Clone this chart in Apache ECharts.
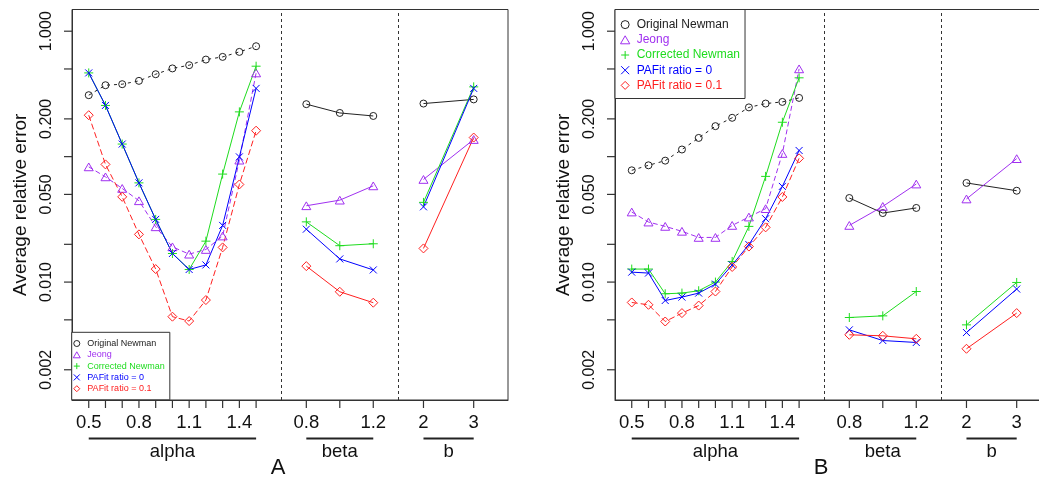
<!DOCTYPE html>
<html>
<head>
<meta charset="utf-8">
<script src="https://cdn.jsdelivr.net/npm/echarts@6/dist/echarts.min.js"></script>
<style>
html,body{margin:0;padding:0;background:#fff;}
#chart{width:1039px;height:484px;}
</style>
</head>
<body>
<div id="chart"></div>
<script>
// ---------------- DATA ----------------
const alphaValues = [0.5, 0.6, 0.7, 0.8, 0.9, 1.0, 1.1, 1.2, 1.3, 1.4, 1.5];
const betaValues = [0.8, 1.0, 1.2];
const bValues = [2, 3];
const alphaTickLabels = [0.5, 0.8, 1.1, 1.4];
const betaTickLabels = [0.8, 1.2];
const bTickLabels = [2, 3];
const groupNames = ['alpha', 'beta', 'b'];
const panelLetters = ['A', 'B'];
const methodNames = ['Original Newman', 'Jeong', 'Corrected Newman', 'PAFit ratio = 0', 'PAFit ratio = 0.1'];
const yTickValues = [1, 0.5, 0.2, 0.1, 0.05, 0.02, 0.01, 0.005, 0.002];
const yLabelValues = [1, 0.2, 0.05, 0.01, 0.002];
const yAxisTitle = 'Average relative error';

// Panel A
const origNewmanA_alpha = [0.309, 0.371, 0.378, 0.402, 0.454, 0.505, 0.536, 0.594, 0.624, 0.684, 0.759];
const origNewmanA_beta = [0.262, 0.223, 0.211];
const origNewmanA_b = [0.265, 0.286];
const jeongA_alpha = [0.0829, 0.0690, 0.0558, 0.0445, 0.0276, 0.0191, 0.0167, 0.0182, 0.0233, 0.0938, 0.465];
const jeongA_beta = [0.0406, 0.0450, 0.0585];
const jeongA_b = [0.0658, 0.137];
const correctedA_alpha = [0.465, 0.256, 0.126, 0.0618, 0.0316, 0.0169, 0.0126, 0.0212, 0.0726, 0.2275, 0.526];
const correctedA_beta = [0.0302, 0.0195, 0.0202];
const correctedA_b = [0.0432, 0.360];
const pafit0A_alpha = [0.465, 0.256, 0.126, 0.0618, 0.0316, 0.0169, 0.0126, 0.0137, 0.0283, 0.0996, 0.350];
const pafit0A_beta = [0.0264, 0.0153, 0.0125];
const pafit0A_b = [0.0398, 0.350];
const pafit01A_alpha = [0.214, 0.0867, 0.0478, 0.0240, 0.0127, 0.0053, 0.00489, 0.00719, 0.0189, 0.0600, 0.161];
const pafit01A_beta = [0.0134, 0.00837, 0.00685];
const pafit01A_b = [0.01855, 0.142];

// Panel B
const origNewmanB_alpha = [0.0778, 0.0853, 0.0929, 0.114, 0.141, 0.175, 0.204, 0.247, 0.265, 0.273, 0.294];
const origNewmanB_beta = [0.0468, 0.0355, 0.039];
const origNewmanB_b = [0.0617, 0.0535];
const jeongB_alpha = [0.0362, 0.0301, 0.0278, 0.0254, 0.0227, 0.0227, 0.0283, 0.033, 0.0385, 0.106, 0.501];
const jeongB_beta = [0.0283, 0.0401, 0.0605];
const jeongB_b = [0.046, 0.0964];
const correctedB_alpha = [0.0127, 0.0127, 0.00807, 0.00817, 0.00853, 0.0100, 0.0146, 0.0278, 0.0696, 0.188, 0.425];
const correctedB_beta = [0.00522, 0.00538, 0.00841];
const correctedB_b = [0.00456, 0.00993];
const pafit0B_alpha = [0.0120, 0.0118, 0.00713, 0.00759, 0.00817, 0.00964, 0.0137, 0.0199, 0.032, 0.0579, 0.112];
const pafit0B_beta = [0.00416, 0.00342, 0.0033];
const pafit0B_b = [0.00396, 0.0088];
const pafit01B_alpha = [0.00688, 0.00659, 0.00485, 0.00566, 0.0065, 0.00841, 0.0132, 0.0192, 0.0273, 0.0477, 0.0969];
const pafit01B_beta = [0.0038, 0.00373, 0.00353];
const pafit01B_b = [0.00294, 0.00566];

const panelData = [
  [
    [origNewmanA_alpha, origNewmanA_beta, origNewmanA_b],
    [jeongA_alpha, jeongA_beta, jeongA_b],
    [correctedA_alpha, correctedA_beta, correctedA_b],
    [pafit0A_alpha, pafit0A_beta, pafit0A_b],
    [pafit01A_alpha, pafit01A_beta, pafit01A_b]
  ],
  [
    [origNewmanB_alpha, origNewmanB_beta, origNewmanB_b],
    [jeongB_alpha, jeongB_beta, jeongB_b],
    [correctedB_alpha, correctedB_beta, correctedB_b],
    [pafit0B_alpha, pafit0B_beta, pafit0B_b],
    [pafit01B_alpha, pafit01B_beta, pafit01B_b]
  ]
];

// ---------------- LAYOUT / STYLE ----------------
const FONT = '"Liberation Sans", Arial, Helvetica, sans-serif';
const rnd = v => Math.round(v * 1e6) / 1e6;
const groupLayout = [
  {values: alphaValues, labels: alphaTickLabels, pos: v => rnd(1 + (v - 0.5) * 10)},
  {values: betaValues, labels: betaTickLabels, pos: v => rnd(14 + (v - 0.8) * 10)},
  {values: bValues, labels: bTickLabels, pos: v => rnd(21 + (v - 2) * 3)}
];
const X_MIN = 0, X_MAX = 26.05;
const Y_MIN = -2.94, Y_MAX = 0.173;
const TICK_LEN = 8;
const circlePath = 'path://M10,5A5,5 0 1 1 0,5A5,5 0 1 1 10,5Z';
const trianglePath = 'path://M5,0.7L10,9.3L0,9.3Z';
const diamondPath = 'path://M5,0L10,5L5,10L0,5Z';
const plusPath = 'path://M5,0L5,10M0,5L10,5';
const crossPath = 'path://M0,0L10,10M10,0L0,10';
const methodStyles = [
  {color: '#222222', symbol: circlePath, size: 7, dash: [3, 4]},
  {color: '#A030F0', symbol: trianglePath, size: 9, dash: [5, 3]},
  {color: '#1EDC1E', symbol: plusPath, size: 9, dash: 'solid'},
  {color: '#0000FF', symbol: crossPath, size: 7, dash: 'solid'},
  {color: '#FF2020', symbol: diamondPath, size: 9, dash: [6, 3]}
];
const grids = [
  {left: 72, top: 9.5, width: 436, height: 390.5},
  {left: 615, top: 9.5, width: 436, height: 390.5}
];

const tickPositions = [];
const labelMap = {};
groupLayout.forEach(g => {
  g.values.forEach(v => tickPositions.push(g.pos(v)));
  g.labels.forEach(v => { labelMap[g.pos(v)] = String(v); });
});
const separators = [];
for (let i = 0; i < groupLayout.length - 1; i++) {
  const a = groupLayout[i], b = groupLayout[i + 1];
  separators.push(rnd((a.pos(a.values[a.values.length - 1]) + b.pos(b.values[0])) / 2));
}
const log10 = v => Math.log10(v);
const yLabelKeys = {};
yLabelValues.forEach(v => { yLabelKeys[rnd(log10(v))] = v.toFixed(3); });

// tick marks are drawn as part of each axis label (rich text), so they sit exactly at the axis values
const xRich = {
  tk: {width: 1.2, height: TICK_LEN, lineHeight: TICK_LEN, backgroundColor: '#333', fontSize: 1},
  gap: {height: 5, lineHeight: 5, fontSize: 1},
  num: {fontSize: 18.5, lineHeight: 19, color: '#111', fontFamily: FONT}
};
const yRich = {
  tk: {width: TICK_LEN * 0 + 1.2, height: TICK_LEN, lineHeight: TICK_LEN, backgroundColor: '#333', fontSize: 1},
  gap: {height: 9, lineHeight: 9, fontSize: 1},
  num: {fontSize: 16, lineHeight: 16, color: '#111', fontFamily: FONT}
};

const option = {
  animation: false,
  backgroundColor: '#fff',
  grid: grids.map(g => Object.assign({show: true, borderColor: '#333', borderWidth: 1, backgroundColor: 'transparent', outerBoundsMode: 'none', containLabel: false}, g)),
  xAxis: grids.map((g, gi) => ({
    type: 'value', gridIndex: gi, min: X_MIN, max: X_MAX, position: 'bottom',
    axisLine: {show: true, onZero: false, lineStyle: {color: '#333', width: 1}},
    splitLine: {show: false},
    axisTick: {show: false},
    axisLabel: {show: true, customValues: tickPositions, margin: 0, hideOverlap: false,
      formatter: v => {
        const t = labelMap[rnd(v)];
        return t ? '{tk| }\n{gap| }\n{num|' + t + '}' : '{tk| }';
      },
      rich: xRich, fontSize: 18.5, color: '#111', fontFamily: FONT}
  })),
  yAxis: grids.map((g, gi) => ({
    type: 'value', gridIndex: gi, min: Y_MIN, max: Y_MAX, position: 'left',
    axisLine: {show: true, onZero: false, lineStyle: {color: '#333', width: 1}},
    splitLine: {show: false},
    axisTick: {show: false},
    axisLabel: {show: true, customValues: yTickValues.map(log10), rotate: 90, margin: 0, hideOverlap: false,
      formatter: v => {
        const t = yLabelKeys[rnd(v)];
        return t ? '{num|' + t + '}\n{gap| }\n{tk| }' : '{tk| }';
      },
      rich: yRich, fontSize: 16, color: '#111', fontFamily: FONT},
    name: yAxisTitle, nameLocation: 'middle', nameGap: 42, nameRotate: 90, nameMoveOverlap: false,
    nameTextStyle: {fontSize: 19, color: '#111', fontFamily: FONT}
  })),
  legend: [
    {
      orient: 'vertical', left: 71.7, top: 332.3, padding: [5.7, 5, 5.6, 1.1],
      itemWidth: 11, itemHeight: 6, itemGap: 0.3, borderColor: '#333', borderWidth: 1, backgroundColor: '#fff',
      symbolKeepAspect: true,
      textStyle: {fontSize: 9, lineHeight: 11, fontFamily: FONT},
      selectedMode: false,
      data: methodNames.map((n, i) => ({name: n, icon: methodStyles[i].symbol,
        itemStyle: {color: 'rgba(0,0,0,0)', borderColor: methodStyles[i].color, borderWidth: 1},
        textStyle: {color: methodStyles[i].color}}))
    },
    {
      orient: 'vertical', left: 615, top: 9.5, padding: [7.5, 5, 5.5, 5],
      itemWidth: 13, itemHeight: 8, itemGap: 0, borderColor: '#333', borderWidth: 1, backgroundColor: '#fff',
      symbolKeepAspect: true,
      textStyle: {fontSize: 12, lineHeight: 15.2, fontFamily: FONT},
      selectedMode: false,
      data: methodNames.map((n, i) => ({name: n, icon: methodStyles[i].symbol,
        itemStyle: {color: 'rgba(0,0,0,0)', borderColor: methodStyles[i].color, borderWidth: 1},
        textStyle: {color: methodStyles[i].color}}))
    }
  ],
  series: []
};

panelData.forEach((methods, gi) => {
  methods.forEach((groupsVals, mi) => {
    const st = methodStyles[mi];
    groupsVals.forEach((vals, gIdx) => {
      const g = groupLayout[gIdx];
      const s = {
        type: 'line', name: methodNames[mi], xAxisIndex: gi, yAxisIndex: gi,
        data: vals.map((v, k) => [g.pos(g.values[k]), log10(v)]),
        symbol: st.symbol, symbolSize: st.size, showSymbol: true, symbolKeepAspect: true,
        itemStyle: {color: 'rgba(0,0,0,0)', borderColor: st.color, borderWidth: 1},
        lineStyle: {color: st.color, width: 1, type: gIdx === 0 ? st.dash : 'solid'},
        emphasis: {disabled: true}, z: 3
      };
      if (mi === 0 && gIdx === 0) {
        s.markLine = {silent: true, symbol: 'none', label: {show: false},
          lineStyle: {type: [3, 3], color: '#333', width: 1},
          data: separators.map(x => ({xAxis: x}))};
      }
      option.series.push(s);
    });
  });
});

const chart = echarts.init(document.getElementById('chart'), null, {renderer: 'canvas'});
chart.setOption(option);

// group underlines, group names and panel letters, placed with the axes' own scales
const graphics = [];
grids.forEach((g, gi) => {
  const yBottom = chart.convertToPixel({yAxisIndex: gi}, Y_MIN);
  const xLeft = chart.convertToPixel({xAxisIndex: gi}, X_MIN);
  groupLayout.forEach((grp, k) => {
    const x0 = chart.convertToPixel({xAxisIndex: gi}, grp.pos(grp.values[0]));
    const x1 = chart.convertToPixel({xAxisIndex: gi}, grp.pos(grp.values[grp.values.length - 1]));
    graphics.push({type: 'line', shape: {x1: x0, y1: yBottom + 38.5, x2: x1, y2: yBottom + 38.5},
      style: {stroke: '#222', lineWidth: 2}, silent: true});
    graphics.push({type: 'text', x: (x0 + x1) / 2, y: yBottom + 52,
      style: {text: groupNames[k], fontSize: 18.5, fontFamily: FONT, fill: '#111', align: 'center', verticalAlign: 'middle'}, silent: true});
  });
  const xr = chart.convertToPixel({xAxisIndex: gi}, X_MAX);
  graphics.push({type: 'text', x: (xLeft + xr) / 2 - 12, y: yBottom + 68,
    style: {text: panelLetters[gi], fontSize: 22, fontFamily: FONT, fill: '#111', align: 'center', verticalAlign: 'middle'}, silent: true});
});
chart.setOption({graphic: graphics});
</script>
</body>
</html>
